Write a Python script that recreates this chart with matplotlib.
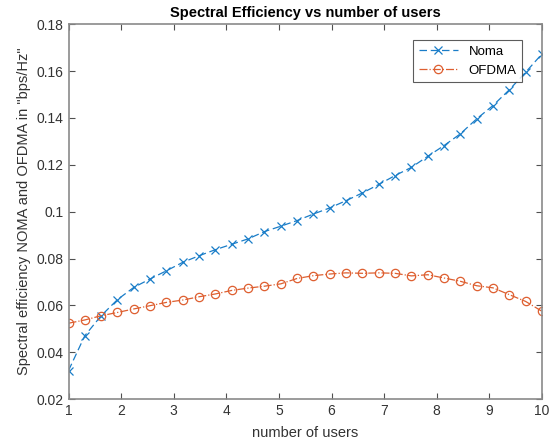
import numpy as np
import matplotlib
matplotlib.use("Agg")
import matplotlib.pyplot as plt

plt.rcParams['font.family'] = ['Liberation Sans', 'DejaVu Sans']

users = np.linspace(1, 10, 30)
noma = [0.0322, 0.0471, 0.0556, 0.0625, 0.0677, 0.0713, 0.0748, 0.0784, 0.0812, 0.0838,
        0.0861, 0.0884, 0.0915, 0.0938, 0.0962, 0.0990, 0.1016, 0.1047, 0.1080, 0.1116,
        0.1154, 0.1189, 0.1236, 0.1282, 0.1332, 0.1396, 0.1453, 0.1520, 0.1595, 0.1673]
ofdma = [0.0524, 0.0538, 0.0556, 0.0570, 0.0585, 0.0599, 0.0613, 0.0623, 0.0637, 0.0649,
         0.0664, 0.0674, 0.0682, 0.0692, 0.0715, 0.0727, 0.0734, 0.0739, 0.0737, 0.0739,
         0.0737, 0.0726, 0.0731, 0.0717, 0.0703, 0.0684, 0.0675, 0.0646, 0.0617, 0.0575]

xticks = list(range(1, 11))
yticks = [0.02, 0.04, 0.06, 0.08, 0.1, 0.12, 0.14, 0.16, 0.18]
ytick_labels = ['0.02', '0.04', '0.06', '0.08', '0.1', '0.12', '0.14', '0.16', '0.18']

fig = plt.figure(figsize=(5.57, 4.48), dpi=100)
ax = fig.add_axes([0.123, 0.109, 0.850, 0.837])

ax.plot(users, noma, linestyle='--', marker='x', color='#1A7DC8', lw=0.9,
        markersize=5.5, markeredgewidth=0.9, label='Noma', dashes=(6, 3))
ax.plot(users, ofdma, linestyle='-.', marker='o', color='#DE5F30', lw=0.9,
        markersize=6, markeredgewidth=0.9, markerfacecolor='none', label='OFDMA')

ax.set_xlim(1, 10)
ax.set_ylim(0.02, 0.18)
ax.set_xticks(xticks)
ax.set_yticks(yticks)
ax.set_yticklabels(ytick_labels)
ax.tick_params(direction='in', top=True, right=True, length=4, width=0.8,
               colors='#505050', labelsize=10, labelcolor='#333333')
for s in ax.spines.values():
    s.set_color('#8a8a8a')
    s.set_linewidth(1.2)

ax.set_title('Spectral Efficiency vs number of users', fontsize=10.5,
             fontweight='bold', pad=5)
ax.set_xlabel('number of users', fontsize=10.5, color='#333333', labelpad=6)
ax.set_ylabel('Spectral efficiency NOMA and OFDMA in "bps/Hz"', fontsize=10.5,
              color='#333333', labelpad=4)

leg = ax.legend(loc='upper right', fontsize=9.5, frameon=True, fancybox=False,
                edgecolor='#333333', borderpad=0.4, handlelength=3.0,
                bbox_to_anchor=(0.972, 0.975))
leg.get_frame().set_linewidth(0.8)

fig.savefig('out.png', dpi=100)
